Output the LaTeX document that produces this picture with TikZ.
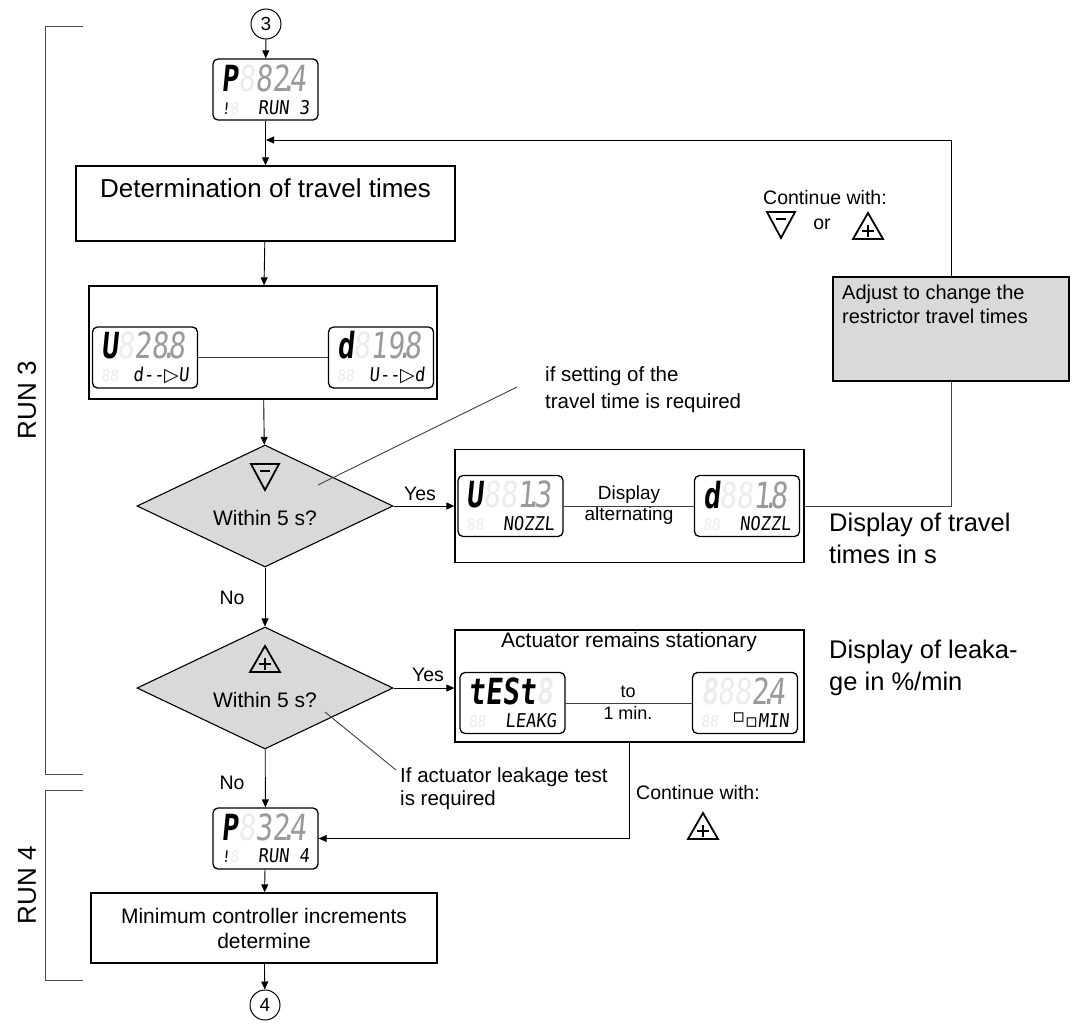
\documentclass[tikz,border=0pt]{standalone}
\usepackage{fontspec}
\setmainfont{Liberation Sans}
\newfontfamily\lcdfont[FakeStretch=0.78,FakeSlant=0.1]{DejaVu Sans Mono}
\newfontfamily\lcdfontb[FakeStretch=0.9,FakeSlant=0.1]{DejaVu Sans Mono}
\newfontfamily\symfont{DejaVu Sans}
\usetikzlibrary{arrows.meta,positioning,shapes.geometric,calc}
\definecolor{segoff}{HTML}{ECECEC}
\definecolor{segon}{HTML}{9A9A9A}
\definecolor{panel}{HTML}{D9D9D9}
\newcommand{\fsz}[2]{\fontsize{#1}{#2}\selectfont}
\newcommand{\lcdbig}{\lcdfont\fontsize{36}{36}\selectfont}
\newcommand{\lcdsmall}{\lcdfontb\fontsize{19}{19}\selectfont}
\newcommand{\lcdghost}{\lcdfontb\fontsize{16}{16}\selectfont}
\newcommand{\lcddot}{\makebox[0pt]{.}}
\newcommand{\gh}{{\color{segoff}8}}
% LCD face: main char, 4 digit places, lower-left places, lower text
\newcommand{\lcdface}[4]{%
  \vbox{\offinterlineskip
    \hbox to 88pt{\lcdbig{\bfseries #1}\color{segon}#2\hss}
    \vskip 8pt
    \hbox to 88pt{\lcdghost #3\hfill\lcdsmall\color{black}#4}}}
\begin{document}
\begin{tikzpicture}[x=1pt, y=-1pt,
    box/.style={draw, line width=1.3pt, inner sep=0pt, align=center},
    txt/.style={inner sep=0pt, align=center},
    lcd/.style={draw, line width=1.3pt, rounded corners=5pt, fill=white,
      minimum width=105pt, minimum height=61pt, inner sep=0pt},
    dia/.style={diamond, draw, line width=1.1pt, fill=panel,
      minimum width=256pt, minimum height=122pt, inner sep=0pt},
    circ/.style={circle, draw, line width=1pt, minimum size=30pt,
      inner sep=0pt, font=\fsz{19}{19}},
    arr/.style={-{Triangle[length=8pt,width=7pt]}, line width=0.9pt},
    wire/.style={line width=0.9pt, draw=black!75},
    brk/.style={line width=0.9pt, draw=black!70},
    keyminus/.pic={
      \draw[line width=1.8pt] (-14,-13) -- (14,-13) -- (0,13) -- cycle;
      \draw[line width=2pt] (-5,-6) -- (5,-6);},
    keyplus/.pic={
      \draw[line width=1.8pt] (0,-13) -- (15,13) -- (-15,13) -- cycle;
      \draw[line width=2pt] (-6,5) -- (6,5) (0,-1) -- (0,11);}]
  \useasboundingbox (0,0) rectangle (1075,1028);
  % === RUN brackets ===
  \draw[brk] (83,26) -| (45,774) -- (83,774);
  \draw[brk] (83,790) -| (45,980) -- (83,980);
  \node[txt, rotate=90, font=\fsz{26}{26}] (run3) at (27,400) {RUN 3};
  \node[txt, rotate=90, font=\fsz{26}{26}] (run4) at (27,885) {RUN 4};
  % === Main column ===
  \node[circ] (c3) at (266,24) {3};
  \node[lcd] (p3) at (265.5,89.5) {\lcdface{P}{\gh 82\lcddot4}{!\gh}{RUN 3}};
  \node[box, minimum width=379pt, minimum height=75pt, font=\fsz{26}{31}] (det) at (265.5,203.5)
    {Determination of travel times\\ \mbox{}};
  \node[box, minimum width=348pt, minimum height=113pt] (tbx) at (263,342.5) {};
  \node[lcd] (tu) at (145,357.5) {\lcdface{U}{\gh 28\lcddot8}{\gh\gh}{d-{}-{\symfont▷}U}};
  \node[lcd] (td) at (381,357.5) {\lcdface{d}{\gh 19\lcddot8}{\gh\gh}{U-{}-{\symfont▷}d}};
  \node[dia] (q1) at (265,506) {};
  \pic at (265,477) {keyminus};
  \node[txt, font=\fsz{21}{21}] (q1t) at (265,518) {Within 5 s?};
  \node[dia] (q2) at (265,688) {};
  \pic at (265,659) {keyplus};
  \node[txt, font=\fsz{21}{21}] (q2t) at (265,700) {Within 5 s?};
  \node[lcd] (p4) at (265.5,838.5) {\lcdface{P}{\gh 32\lcddot4}{!\gh}{RUN 4}};
  \node[box, minimum width=346pt, minimum height=70pt, font=\fsz{21}{25}] (minb) at (264,928)
    {Minimum controller increments\\determine};
  \node[circ] (c4) at (265,1005) {4};
  % === Travel times display ===
  \node[box, minimum width=349pt, minimum height=113pt] (nbx) at (629.5,506) {};
  \node[lcd] (nu) at (510.5,506) {\lcdface{U}{\gh\gh 1\lcddot3}{\gh\gh}{NOZZL}};
  \node[lcd] (nd) at (747,506) {\lcdface{d}{\gh\gh 1\lcddot8}{\gh\gh}{NOZZL}};
  \node[txt, font=\fsz{19}{21}] (alt) at (629,505.5) {Display\\alternating};
  % === Leakage test ===
  \node[box, minimum width=349pt, minimum height=112pt] (lbx) at (629.5,686) {};
  \node[txt, font=\fsz{21}{21}] (lbxt) at (629,642) {Actuator remains stationary};
  \node[lcd] (lt) at (512.5,703) {\lcdface{t}{\bfseries\color{black}ESt\gh}{\gh\gh}{LEAKG}};
  \node[lcd] (lm) at (745,703) {\lcdface{\gh}{\gh\gh 2\lcddot4}{\gh\gh}{{\symfont\raisebox{.25em}{▫}▫}MIN}};
  \node[txt, font=\fsz{18}{22}] (tomin) at (628,703) {to\\1 min.};
  % === Adjust restrictor ===
  \node[box, fill=panel, minimum width=236pt, minimum height=104pt] (adj) at (951,329) {};
  \node[txt, align=left, anchor=west, font=\fsz{20}{24}] (adjt) at (842,304)
    {Adjust to change the\\restrictor travel times};
  \node[txt, font=\fsz{19.5}{19.5}] (cont1) at (825,198) {Continue with:};
  \pic at (781,225) {keyminus};
  \node[txt, font=\fsz{19.5}{19.5}] (or1) at (822,224) {or};
  \pic at (868,226) {keyplus};
  \node[txt, font=\fsz{19.5}{19.5}] (cont2) at (698,793) {Continue with:};
  \pic at (703,826) {keyplus};
  % === Side texts ===
  \node[txt, align=left, anchor=west, font=\fsz{25.5}{32}] (dtt) at (829,538)
    {Display of travel\\times in s};
  \node[txt, align=left, anchor=west, font=\fsz{25.5}{32}] (dlk) at (829,668)
    {Display of leaka-\\ge in \%/min};
  \node[txt, align=left, anchor=west, font=\fsz{20.5}{27}] (note1) at (545,390)
    {if setting of the\\travel time is required};
  \node[txt, align=left, anchor=west, font=\fsz{20.5}{23}] (note2) at (400,788.5)
    {If actuator leakage test\\is required};
  \node[txt, font=\fsz{19.5}{19.5}] (yes1) at (420,494) {Yes};
  \node[txt, font=\fsz{19.5}{19.5}] (yes2) at (428,675) {Yes};
  \node[txt, font=\fsz{19.5}{19.5}] (no1) at (232,598) {No};
  \node[txt, font=\fsz{19.5}{19.5}] (no2) at (232,783) {No};
  % === Connectors ===
  \coordinate (fb) at (266,140);
  \coordinate (l1a) at (318,485);
  \coordinate (l1b) at (517,387);
  \coordinate (l2a) at (325,712);
  \coordinate (l2b) at (396,770);
  \draw[arr] (c3) -- (p3);
  \draw[arr] (p3) -- (det);
  \draw[arr] (det) -- (tbx);
  \draw[arr] (tbx) -- (q1);
  \draw[arr] (q1) -- (q2);
  \draw[arr] (q2) -- (p4);
  \draw[arr] (p4) -- (minb);
  \draw[arr] (minb) -- (c4);
  \draw[arr] (q1.east) -- (q1.east -| nbx.west);
  \draw[arr] (q2.east) -- (q2.east -| lbx.west);
  \draw[wire] (tu) -- (td);
  \draw[wire] (nu) -- (nd);
  \draw[wire] (lt) -- (lm);
  \draw[wire] (nbx.east) -| (adj.south);
  \draw[arr] (adj.north) |- (fb);
  \draw[arr] (lbx.south) |- (p4.east);
  \draw[wire] (l1a) -- (l1b);
  \draw[wire] (l2a) -- (l2b);
\end{tikzpicture}
\end{document}
